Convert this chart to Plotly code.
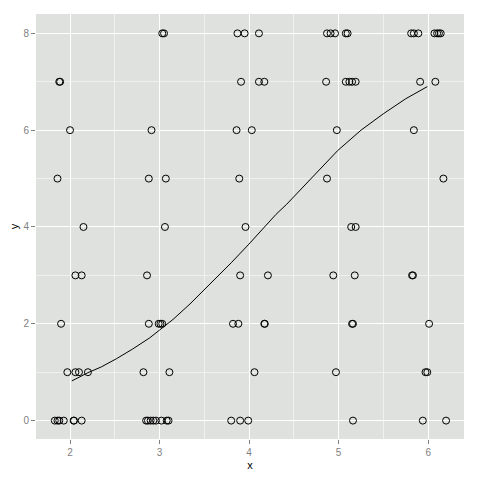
import plotly.graph_objects as go

# points, grouped by their y value
x_at_8 = [3.03, 3.05, 3.87, 3.95, 4.11, 4.87, 4.91, 4.96, 5.08, 5.10, 5.81, 5.84, 5.89, 6.07, 6.10, 6.12, 6.14]
x_at_7 = [1.88, 1.89, 3.91, 4.11, 4.17, 4.86, 5.08, 5.12, 5.15, 5.19, 5.91, 6.08]
x_at_6 = [2.00, 2.91, 3.86, 4.03, 4.98, 5.84]
x_at_5 = [1.86, 2.88, 3.07, 3.89, 4.87, 6.17]
x_at_4 = [2.15, 3.06, 3.96, 5.14, 5.19]
x_at_3 = [2.06, 2.13, 2.86, 3.90, 4.21, 4.94, 5.18, 5.82, 5.83]
x_at_2 = [1.90, 2.88, 2.99, 3.01, 3.03, 3.82, 3.88, 4.17, 4.175, 5.15, 5.16, 6.01]
x_at_1 = [1.97, 2.06, 2.10, 2.20, 2.82, 3.11, 4.06, 4.97, 5.97, 5.99]
x_at_0 = [1.83, 1.86, 1.88, 1.93, 2.04, 2.045, 2.13, 2.85, 2.87, 2.90, 2.93, 2.96,
          3.02, 3.08, 3.10, 3.80, 3.90, 3.99, 5.16, 5.94, 6.20]

# fitted curve
curve_x = [2.02, 2.20, 2.35, 2.52, 2.70, 2.89, 3.00, 3.15, 3.34, 3.50, 3.67, 3.80, 3.99,
           4.16, 4.30, 4.42, 4.64, 4.80, 4.99, 5.25, 5.50, 5.75, 5.99]
curve_y = [0.82, 0.99, 1.11, 1.28, 1.48, 1.71, 1.87, 2.09, 2.41, 2.70, 3.01, 3.26, 3.63,
           3.97, 4.26, 4.47, 4.90, 5.22, 5.58, 6.00, 6.34, 6.65, 6.90]

rows = [(8, x_at_8), (7, x_at_7), (6, x_at_6), (5, x_at_5), (4, x_at_4),
        (3, x_at_3), (2, x_at_2), (1, x_at_1), (0, x_at_0)]
px_, py_ = [], []
for yv, xs in rows:
    px_ += xs
    py_ += [yv] * len(xs)

fig = go.Figure()
fig.add_trace(go.Scatter(
    x=px_, y=py_, mode="markers",
    marker=dict(symbol="circle-open", size=7, color="black", line=dict(width=1)),
    hoverinfo="skip"))
fig.add_trace(go.Scatter(
    x=curve_x, y=curve_y, mode="lines", line=dict(color="black", width=1),
    hoverinfo="skip"))

axis_common = dict(
    showline=False, zeroline=False, automargin=False,
    gridcolor="white", gridwidth=1.2,
    ticks="outside", ticklen=4, tickcolor="#7f7f7f",
    tickfont=dict(family="Liberation Sans", size=10, color="#7f7f7f"),
)

fig.update_xaxes(axis_common, range=[1.62, 6.40], tickmode="linear", tick0=2, dtick=1,
                 minor=dict(showgrid=True, gridcolor="#f0f0f0", gridwidth=0.6, tick0=2.5, dtick=1),
                 title=dict(text="x", font=dict(family="Liberation Sans", size=11, color="black"),
                            standoff=4))
fig.update_yaxes(axis_common, range=[-0.38, 8.40], tickmode="linear", tick0=0, dtick=2,
                 minor=dict(showgrid=True, gridcolor="#f0f0f0", gridwidth=0.6, tick0=1, dtick=2),
                 title=dict(text="y", font=dict(family="Liberation Sans", size=11, color="black"),
                            standoff=4))

# the page body adds 8px on the left and top, so the margins make up for it
fig.update_layout(
    width=480, height=480,
    margin=dict(l=28, r=24, t=6, b=49),
    paper_bgcolor="white", plot_bgcolor="#dee1de",
    showlegend=False,
)

fig.write_html("out.html")
